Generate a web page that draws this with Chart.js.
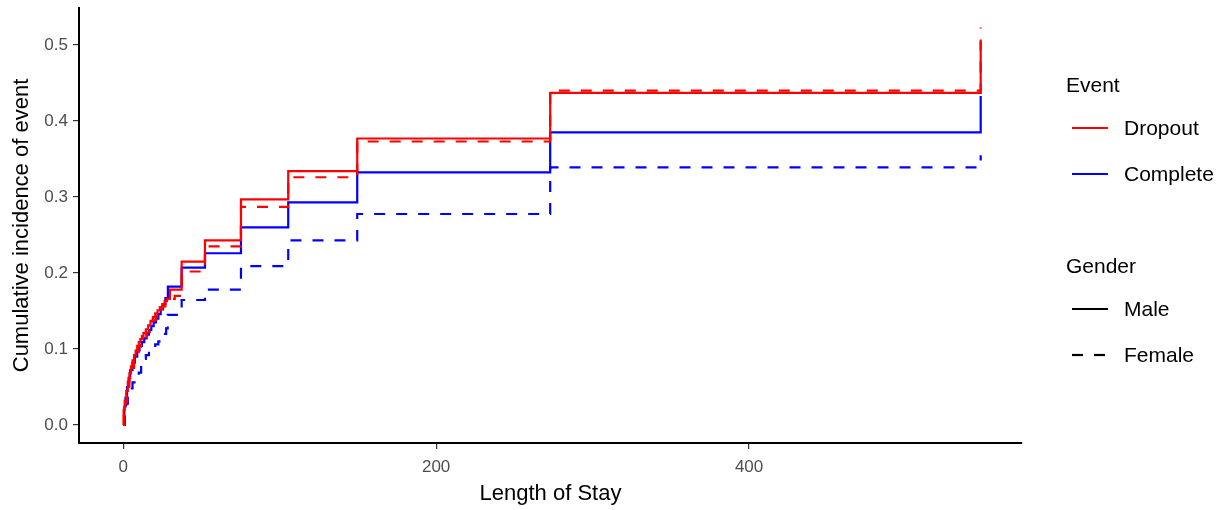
<!DOCTYPE html>
<html>
<head>
<meta charset="utf-8">
<script src="https://cdn.jsdelivr.net/npm/chart.js@4/dist/chart.umd.min.js"></script>
<style>
  html, body { margin: 0; padding: 0; background: #ffffff; }
  #wrap { width: 1225px; height: 510px; }
</style>
</head>
<body>
<div id="wrap"><canvas id="c" width="1225" height="510"></canvas></div>
<script>
// ---- Data ----
const dropoutMaleT   = [0, 0.3, 1, 2, 3, 4, 5, 6, 7, 8, 9, 10, 11, 12, 13, 14.5, 16, 17.5, 19, 20.5, 22, 23.5, 25, 26.5, 28, 29.9, 37.4, 52.3, 75.3, 105.5, 149.6, 272.9, 548];
const dropoutMaleV   = [0, 0.02, 0.032, 0.045, 0.057, 0.068, 0.077, 0.085, 0.092, 0.098, 0.104, 0.109, 0.113, 0.117, 0.121, 0.126, 0.131, 0.137, 0.142, 0.147, 0.151, 0.155, 0.159, 0.163, 0.166, 0.178, 0.215, 0.243, 0.297, 0.334, 0.377, 0.437, 0.505];

const dropoutFemaleT = [0, 0.5, 1.5, 2.5, 4, 5.5, 7, 8.5, 10, 11.5, 13, 15, 17, 19, 21, 23, 25, 27, 29, 33, 37.4, 52.3, 75.3, 105.5, 149.6, 272.9, 548];
const dropoutFemaleV = [0, 0.015, 0.03, 0.045, 0.062, 0.075, 0.087, 0.096, 0.103, 0.109, 0.115, 0.122, 0.13, 0.138, 0.145, 0.151, 0.156, 0.161, 0.166, 0.17, 0.202, 0.235, 0.287, 0.326, 0.373, 0.44, 0.523];

const completeMaleT  = [0, 0.8, 1.5, 2.5, 3.5, 4.5, 6, 7.5, 9, 10.5, 12, 13.5, 15, 16.5, 18, 19.5, 21, 22.5, 24, 25.5, 27, 28.6, 37.4, 52.3, 75.3, 105.5, 149.6, 272.9, 548];
const completeMaleV  = [0, 0.024, 0.036, 0.05, 0.062, 0.072, 0.082, 0.09, 0.098, 0.104, 0.109, 0.114, 0.119, 0.125, 0.13, 0.135, 0.14, 0.146, 0.152, 0.159, 0.167, 0.182, 0.207, 0.226, 0.26, 0.293, 0.3325, 0.385, 0.433];

const completeFemaleT = [0, 1, 2, 3, 4.5, 6, 8, 10, 11.5, 13, 14.5, 16.5, 18.5, 20.5, 22.5, 24.5, 26, 27.5, 28.5, 37.4, 52.3, 75.3, 105.5, 149.6, 272.9, 548];
const completeFemaleV = [0, 0.015, 0.028, 0.038, 0.048, 0.056, 0.063, 0.069, 0.078, 0.087, 0.092, 0.097, 0.102, 0.106, 0.11, 0.114, 0.12, 0.127, 0.145, 0.1645, 0.178, 0.209, 0.243, 0.2776, 0.339, 0.355];

const xTicks = [0, 200, 400];
const yTicks = [0, 0.1, 0.2, 0.3, 0.4, 0.5];

const eventLabels = ['Dropout', 'Complete'];
const genderLabels = ['Male', 'Female'];

// ---- Build ----
const RED = '#FF0000', BLUE = '#0000FF';
const DASH = [11, 11];
const FONT = '"Liberation Sans", Arial, Helvetica, sans-serif';

function pts(t, v) { return t.map((x, i) => ({ x: x, y: v[i] })); }

function ds(label, t, v, color, dashed) {
  return {
    label: label,
    data: pts(t, v),
    borderColor: color,
    backgroundColor: color,
    borderWidth: 2.2,
    borderDash: dashed ? DASH : [],
    pointRadius: 0,
    stepped: 'before',
    fill: false,
    tension: 0
  };
}

const legendPlugin = {
  id: 'ggLegend',
  afterDraw(chart) {
    const ctx = chart.ctx;
    ctx.save();
    ctx.fillStyle = '#000';
    ctx.textBaseline = 'middle';
    ctx.textAlign = 'left';
    ctx.font = '21px ' + FONT;
    ctx.fillText('Event', 1066, 86);
    ctx.fillText('Gender', 1066, 267);
    const items = [
      { y: 128, text: eventLabels[0], color: RED, dash: [] },
      { y: 174, text: eventLabels[1], color: BLUE, dash: [] },
      { y: 309, text: genderLabels[0], color: '#000', dash: [] },
      { y: 355, text: genderLabels[1], color: '#000', dash: [11, 11] }
    ];
    items.forEach(it => {
      ctx.beginPath();
      ctx.setLineDash(it.dash);
      ctx.lineWidth = 2.2;
      ctx.strokeStyle = it.color;
      ctx.moveTo(1072, it.y);
      ctx.lineTo(1108, it.y);
      ctx.stroke();
      ctx.setLineDash([]);
      ctx.fillStyle = '#000';
      ctx.fillText(it.text, 1124, it.y + 1);
    });
    ctx.restore();
  }
};

new Chart(document.getElementById('c'), {
  type: 'line',
  data: {
    datasets: [
      ds('Dropout Male', dropoutMaleT, dropoutMaleV, RED, false),
      ds('Dropout Female', dropoutFemaleT, dropoutFemaleV, RED, true),
      ds('Complete Male', completeMaleT, completeMaleV, BLUE, false),
      ds('Complete Female', completeFemaleT, completeFemaleV, BLUE, true)
    ]
  },
  options: {
    responsive: false,
    animation: false,
    layout: { padding: { top: 8, right: 203, bottom: 0, left: 0 } },
    plugins: {
      legend: { display: false },
      tooltip: { enabled: false }
    },
    scales: {
      x: {
        type: 'linear',
        min: -28.2,
        max: 574.4,
        afterBuildTicks: s => { s.ticks = xTicks.map(v => ({ value: v })); },
        afterFit: s => { s.height = 67; s.paddingLeft = 0; s.paddingRight = 0; },
        grid: { drawOnChartArea: false, drawTicks: true, tickLength: 6, color: '#333', lineWidth: 1.2 },
        border: { display: true, color: '#000', width: 2 },
        ticks: { color: '#4D4D4D', font: { family: FONT, size: 17 }, padding: 8, maxRotation: 0 },
        title: { display: true, text: 'Length of Stay', color: '#000', font: { family: FONT, size: 22 }, padding: { top: 4, bottom: 3 } }
      },
      y: {
        type: 'linear',
        min: -0.0237,
        max: 0.5487,
        afterBuildTicks: s => { s.ticks = yTicks.map(v => ({ value: v })); },
        afterFit: s => { s.width = 79; s.paddingTop = 0; s.paddingBottom = 0; },
        grid: { drawOnChartArea: false, drawTicks: true, tickLength: 6, color: '#333', lineWidth: 1.2 },
        border: { display: true, color: '#000', width: 2 },
        ticks: { color: '#4D4D4D', font: { family: FONT, size: 17 }, padding: 5, callback: v => v.toFixed(1) },
        title: { display: true, text: 'Cumulative incidence of event', color: '#000', font: { family: FONT, size: 22 }, padding: { top: 9, bottom: 0 } }
      }
    }
  },
  plugins: [legendPlugin]
});
</script>
</body>
</html>
